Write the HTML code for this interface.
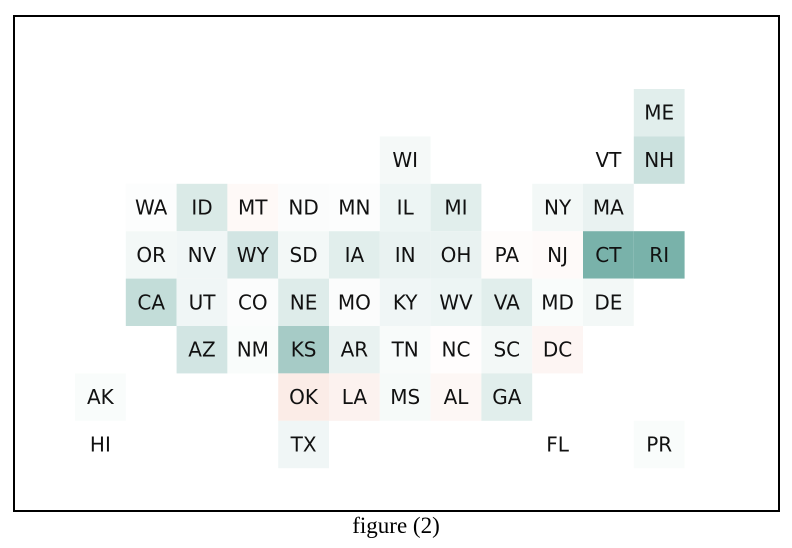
<!DOCTYPE html>
<html><head><meta charset="utf-8"><style>
body{margin:0;background:#fff;width:792px;height:548px;position:relative;overflow:hidden}
#frame{position:absolute;left:13px;top:15px;width:763px;height:493px;border:2px solid #000}
#cap{position:absolute;left:0;width:792px;top:513px;text-align:center;font-family:"Liberation Serif",serif;font-size:23px}
</style></head><body>
<div id="frame">
<svg id="map" width="763" height="493"></svg>
</div>
<div id="cap">figure (2)</div>
<script>
const states=["ME","WI","VT","NH","WA","ID","MT","ND","MN","IL","MI","NY","MA","OR","NV","WY","SD","IA","IN","OH","PA","NJ","CT","RI","CA","UT","CO","NE","MO","KY","WV","VA","MD","DE","AZ","NM","KS","AR","TN","NC","SC","DC","AK","OK","LA","MS","AL","GA","HI","TX","FL","PR"];
const cols=[11,6,10,11,1,2,3,4,5,6,7,9,10,1,2,3,4,5,6,7,8,9,10,11,1,2,3,4,5,6,7,8,9,10,2,3,4,5,6,7,8,9,0,4,5,6,7,8,0,4,9,11];
const rows=[0,1,1,1,2,2,2,2,2,2,2,2,2,3,3,3,3,3,3,3,3,3,3,3,4,4,4,4,4,4,4,4,4,4,5,5,5,5,5,5,5,5,6,6,6,6,6,6,7,7,7,7];
const values=[0.2,0.07,0,0.35,0.02,0.25,-0.1,0.03,0.02,0.12,0.2,0.08,0.15,0.08,0.1,0.3,0.08,0.2,0.15,0.15,-0.05,-0.08,0.9,0.9,0.4,0.1,0.03,0.22,0.03,0.1,0.12,0.2,0.04,0.08,0.3,0.04,0.6,0.15,0.05,-0.03,0.08,-0.15,0.04,-0.3,-0.2,0.06,-0.12,0.2,0,0.1,0,0.04];
const svg=document.getElementById('map');
const NS='http://www.w3.org/2000/svg';
const x0=60,y0=72,cw=50.8,ch=47.4;
function xs(c){return x0+c*cw}
function ys(r){return y0+r*ch}
function color(v){
  const pos=[106,169,160],neg=[240,190,175];
  const t=Math.min(1,Math.abs(v));const c=v>=0?pos:neg;
  return 'rgb('+c.map(k=>Math.round(255+(k-255)*t)).join(',')+')';
}
states.forEach((s,i)=>{
  const g=document.createElementNS(NS,'g');
  
  
  const r=document.createElementNS(NS,'rect');
  r.setAttribute('x',xs(cols[i]));r.setAttribute('y',ys(rows[i]));
  r.setAttribute('width',cw);r.setAttribute('height',ch);
  r.setAttribute('fill',color(values[i]));
  const t=document.createElementNS(NS,'text');
  t.setAttribute('x',xs(cols[i])+cw/2);t.setAttribute('y',ys(rows[i])+ch/2+7);
  t.setAttribute('text-anchor','middle');t.setAttribute('font-family','"DejaVu Sans",sans-serif');
  t.setAttribute('font-size','20');t.setAttribute('fill','#111');
  t.textContent=s;
  g.appendChild(r);g.appendChild(t);svg.appendChild(g);
});
</script>
</body></html>
